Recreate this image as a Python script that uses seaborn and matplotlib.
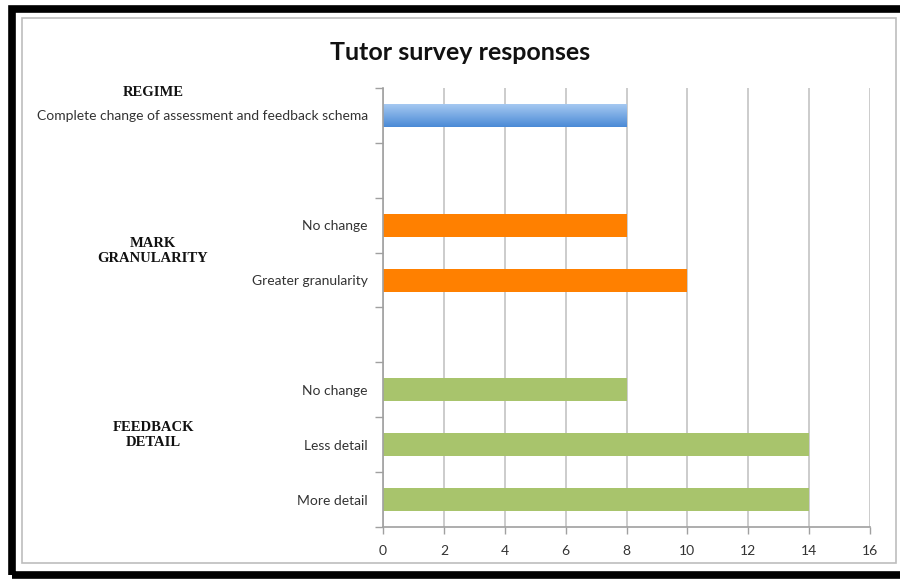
import numpy as np
import pandas as pd
import matplotlib
matplotlib.use("Agg")
import matplotlib.pyplot as plt
import seaborn as sns
from matplotlib.patches import Rectangle

# ---- data ----
slots = ["regime_complete", "blank1", "mark_nochange", "mark_greater",
         "blank2", "fb_nochange", "fb_less", "fb_more"]
slot_labels = ["Complete change of assessment and feedback schema", "",
               "No change", "Greater granularity", "",
               "No change", "Less detail", "More detail"]
bar_slots = ["regime_complete", "mark_nochange", "mark_greater",
             "fb_nochange", "fb_less", "fb_more"]
bar_groups = ["REGIME", "MARK", "MARK", "FEEDBACK", "FEEDBACK", "FEEDBACK"]
bar_values = [8, 8, 10, 8, 14, 14]
group_colors = {"REGIME": "#5b9be0", "MARK": "#ff8000", "FEEDBACK": "#a8c46c"}
x_ticks = [0, 2, 4, 6, 8, 10, 12, 14, 16]
title = "Tutor survey responses"

df = pd.DataFrame({"slot": bar_slots, "group": bar_groups, "value": bar_values})

sns.set_theme(style="white")
plt.rcParams["font.family"] = ["Lato", "DejaVu Sans"]

fig = plt.figure(figsize=(9, 5.79), dpi=100)
W, H = 900, 579
def fx(x): return x / W
def fy(y): return 1 - y / H

ax = fig.add_axes([fx(383), fy(527), fx(870) - fx(383), fy(88) - fy(527)])
sns.barplot(data=df, y="slot", x="value", hue="group", order=slots,
            palette=group_colors, dodge=False, width=0.42, orient="h",
            legend=False, ax=ax, saturation=1, edgecolor="none")

ax.set_xlim(0, 16)
ax.set_ylim(len(slots) - 0.5, -0.5)
ax.set_xticks(x_ticks)
ax.set_xticklabels([str(t) for t in x_ticks], fontsize=10, color="#333333")
ax.set_yticks(range(len(slots)))
ax.set_yticklabels(slot_labels, fontsize=10, color="#333333")
ax.set_yticks(np.arange(-0.5, len(slots), 1), minor=True)
ax.tick_params(axis="y", which="major", length=0, pad=11)
ax.tick_params(axis="y", which="minor", length=6, color="#a0a0a0", width=1, direction="out", left=True)
ax.tick_params(axis="x", which="major", length=5, color="#a0a0a0", width=1, direction="out", bottom=True, pad=8)
ax.set_xlabel("")
ax.set_ylabel("")
ax.xaxis.grid(True, color="#c8c8c8", linewidth=1.3)
ax.yaxis.grid(False)
ax.set_axisbelow(True)
for s in ["top", "right"]:
    ax.spines[s].set_visible(False)
for s in ["left", "bottom"]:
    ax.spines[s].set_color("#a0a0a0")
    ax.spines[s].set_linewidth(1.2)

# gradient on the blue bar
grad = np.linspace(0, 1, 64).reshape(-1, 1)
cmap = matplotlib.colors.LinearSegmentedColormap.from_list("b", ["#a9cbf2", "#4a8ad6"])
for p in ax.patches:
    if abs(p.get_y() + p.get_height() / 2 - 0) < 0.01 and p.get_width() > 0:
        x0, y0, w, h = p.get_x(), p.get_y(), p.get_width(), p.get_height()
        im = ax.imshow(grad, cmap=cmap, aspect="auto",
                       extent=[x0, x0 + w, y0 + h, y0], zorder=p.get_zorder() + 0.1)
        im.set_clip_path(p)
ax.set_xlim(0, 16)
ax.set_ylim(len(slots) - 0.5, -0.5)

# title
fig.text(fx(460), fy(53), title, ha="center", va="center", fontsize=18,
         fontweight="bold", color="#111111")

# group labels
serif = ["Liberation Serif", "DejaVu Serif"]
fig.text(fx(153), fy(92), "REGIME", ha="center", va="center", fontsize=10.5,
         fontweight="bold", family=serif, color="#111111")
fig.text(fx(153), fy(251), "MARK\nGRANULARITY", ha="center", va="center", fontsize=10.5,
         fontweight="bold", family=serif, color="#111111", linespacing=1.2)
fig.text(fx(153), fy(435), "FEEDBACK\nDETAIL", ha="center", va="center", fontsize=10.5,
         fontweight="bold", family=serif, color="#111111", linespacing=1.2)

# frame: inner gray border and thick black outer border
fig.patches.append(Rectangle((fx(22), fy(563)), fx(896) - fx(22), fy(18) - fy(563),
                             transform=fig.transFigure, fill=False,
                             edgecolor="#bdbdbd", linewidth=1.2))
fig.patches.append(Rectangle((fx(12), fy(575)), fx(980) - fx(12), fy(8.5) - fy(575),
                             transform=fig.transFigure, fill=False,
                             edgecolor="black", linewidth=5.5))

fig.savefig("out.png", dpi=100)
